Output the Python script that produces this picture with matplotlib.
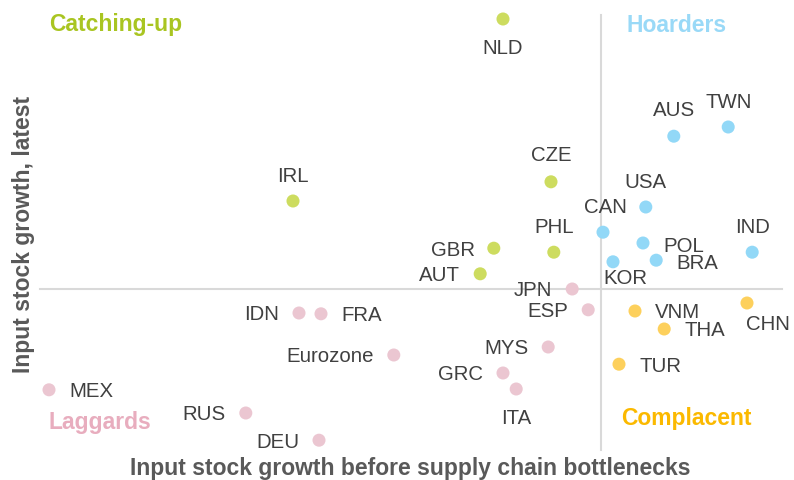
import matplotlib
matplotlib.use("Agg")
from matplotlib import pyplot as plt

plt.rcParams['font.family'] = ['Liberation Sans', 'DejaVu Sans']

# Data: x = input stock growth before bottlenecks, y = latest input stock growth
names = ['NLD', 'CZE', 'IRL', 'GBR', 'PHL', 'AUT',
         'AUS', 'TWN', 'USA', 'CAN', 'POL', 'IND', 'BRA', 'KOR',
         'JPN', 'ESP', 'IDN', 'FRA', 'Eurozone', 'MYS', 'GRC', 'ITA', 'MEX', 'RUS', 'DEU',
         'VNM', 'CHN', 'THA', 'TUR']
x_vals = [-2.45, -1.25, -7.70, -2.68, -1.18, -3.02,
          1.82, 3.18, 1.12, 0.05, 1.05, 3.78, 1.38, 0.30,
          -0.72, -0.32, -7.55, -7.00, -5.18, -1.32, -2.45, -2.12, -13.80, -8.88, -7.05,
          0.85, 3.65, 1.58, 0.45]
y_vals = [6.75, 2.68, 2.20, 1.02, 0.92, 0.38,
          3.82, 4.05, 2.05, 1.42, 1.15, 0.92, 0.72, 0.68,
          0.00, -0.52, -0.60, -0.62, -1.65, -1.45, -2.10, -2.50, -2.52, -3.10, -3.78,
          -0.55, -0.35, -1.00, -1.88]
groups = ['catch'] * 6 + ['hoard'] * 8 + ['lag'] * 11 + ['comp'] * 4

dot_colors = {'catch': '#cddc5f', 'hoard': '#92d8f7', 'lag': '#ebc6d1', 'comp': '#fdd05c'}

# label placement: (dx, dy in pixels, ha)
label_pos = {
    'NLD': (0, -27, 'center'), 'CZE': (0, 28, 'center'), 'IRL': (0, 26, 'center'),
    'GBR': (-19, 0, 'right'), 'PHL': (0, 27, 'center'), 'AUT': (-20, 0, 'right'),
    'AUS': (0, 28, 'center'), 'TWN': (0, 27, 'center'), 'USA': (0, 27, 'center'),
    'CAN': (2, 27, 'center'), 'POL': (20, -1, 'left'), 'IND': (0, 27, 'center'),
    'BRA': (20, -1, 'left'), 'KOR': (12, -15, 'center'),
    'JPN': (-20, 0, 'right'), 'ESP': (-20, 0, 'right'), 'IDN': (-20, 0, 'right'),
    'FRA': (20, 0, 'left'), 'Eurozone': (-20, 0, 'right'), 'MYS': (-20, 0, 'right'),
    'GRC': (-20, 0, 'right'), 'ITA': (0, -28, 'center'), 'MEX': (20, 0, 'left'),
    'RUS': (-20, 0, 'right'), 'DEU': (-20, 0, 'right'),
    'VNM': (20, 0, 'left'), 'CHN': (21, -20, 'center'), 'THA': (20, 0, 'left'),
    'TUR': (20, 0, 'left'),
}

fig = plt.figure(figsize=(7.94, 4.8), dpi=100)
ax = fig.add_axes([0, 0, 1, 1])
ax.set_xlim(-15.025, 4.825)
ax.set_ylim(-4.775, 7.225)
ax.axis('off')

# quadrant dividers
ax.plot([-14.03, 4.53], [0, 0], color='#d9d9d9', lw=1.5, zorder=1)
ax.plot([0, 0], [-4.03, 6.85], color='#d9d9d9', lw=1.5, zorder=1)

for n, x, y, g in zip(names, x_vals, y_vals, groups):
    ax.scatter(x, y, s=88, color=dot_colors[g], edgecolors='none', zorder=3)
    dx, dy, ha = label_pos[n]
    ax.annotate(n, (x, y), xytext=(dx, dy - 2), textcoords='offset pixels',
                ha=ha, va='center', fontsize=14.7, color='#404040', zorder=4)

# quadrant titles
ax.text(49, 456, 'Catching-up', transform=None, fontsize=16.5, fontweight='bold',
        color='#a9c521', va='center', ha='left')
ax.text(626, 455, 'Hoarders', transform=None, fontsize=16.5, fontweight='bold',
        color='#99d9f7', va='center', ha='left')
ax.text(49, 58, 'Laggards', transform=None, fontsize=16.5, fontweight='bold',
        color='#e8adbe', va='center', ha='left')
ax.text(621, 61, 'Complacent', transform=None, fontsize=16.5, fontweight='bold',
        color='#fbb900', va='center', ha='left')

# axis titles
ax.text(410, 11, 'Input stock growth before supply chain bottlenecks', transform=None,
        fontsize=16.5, fontweight='bold', color='#595959', ha='center', va='center')
ax.text(24, 246, 'Input stock growth, latest', transform=None, rotation=90,
        fontsize=16.5, fontweight='bold', color='#595959', ha='center', va='center')

fig.savefig('out.png', dpi=100)
